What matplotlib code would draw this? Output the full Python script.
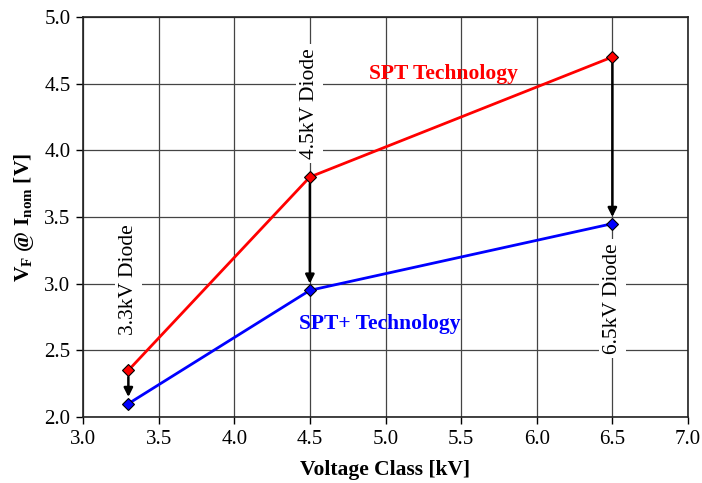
import numpy as np
from matplotlib import pyplot as plt

plt.rcParams['font.family'] = ['Liberation Serif', 'DejaVu Serif']
plt.rcParams['mathtext.fontset'] = 'custom'
plt.rcParams['mathtext.rm'] = 'Liberation Serif'
plt.rcParams['mathtext.bf'] = 'Liberation Serif:bold'

volt = [3.3, 4.5, 6.5]
spt = [2.35, 3.8, 4.7]
spt_plus = [2.1, 2.95, 3.45]
diode_labels = ['3.3kV Diode', '4.5kV Diode', '6.5kV Diode']
diode_label_y = [3.03, 4.35, 2.89]
xticks = np.arange(3.0, 7.01, 0.5)
yticks = np.arange(2.0, 5.01, 0.5)

fig = plt.figure(figsize=(7.02, 4.83), dpi=100)
ax = fig.add_axes([83/702, 66/483, 605/702, 400/483])

ax.set_xlim(3.0, 7.0)
ax.set_ylim(2.0, 5.0)
ax.set_xticks(xticks)
ax.set_yticks(yticks)
ax.set_xticklabels(['%.1f' % v for v in xticks])
ax.set_yticklabels(['%.1f' % v for v in yticks])
ax.tick_params(direction='out', length=5, width=1, labelsize=15, pad=4)
ax.grid(True, color='#444444', linewidth=0.9)
ax.set_axisbelow(True)
for s in ax.spines.values():
	s.set_linewidth(1.2)
	s.set_color('#222222')

# labels behind the lines, white box hides grid
for x, y, t in zip(volt, diode_label_y, diode_labels):
	ax.text(x, y, t, rotation=90, ha='center', va='center', fontsize=15.5,
		zorder=2, bbox=dict(facecolor='white', edgecolor='none', pad=3))

ax.plot(volt, spt, color='red', linewidth=2, marker='D', markersize=6,
	markerfacecolor='red', markeredgecolor='black', markeredgewidth=0.8, zorder=4)
ax.plot(volt, spt_plus, color='blue', linewidth=2, marker='D', markersize=6,
	markerfacecolor='blue', markeredgecolor='black', markeredgewidth=0.8, zorder=4)

for x, y0, y1 in zip(volt, spt, spt_plus):
	ax.annotate('', xy=(x, y1 + 0.05), xytext=(x, y0 - 0.05),
		arrowprops=dict(arrowstyle='-|>', color='black', lw=1.8,
			mutation_scale=13, shrinkA=0, shrinkB=0), zorder=3)

ax.text(5.38, 4.57, 'SPT Technology', color='red', fontsize=15.5,
	fontweight='bold', ha='center', va='center', zorder=5)
ax.text(4.96, 2.70, 'SPT+ Technology', color='blue', fontsize=15.5,
	fontweight='bold', ha='center', va='center', zorder=5)

ax.set_xlabel('Voltage Class [kV]', fontsize=15.5, fontweight='bold', labelpad=8)
ax.set_ylabel(r'$\mathbf{V_F}$ @ $\mathbf{I_{nom}}$ [V]', fontsize=15.5,
	fontweight='bold', labelpad=6)

fig.savefig('out.png', dpi=100)
